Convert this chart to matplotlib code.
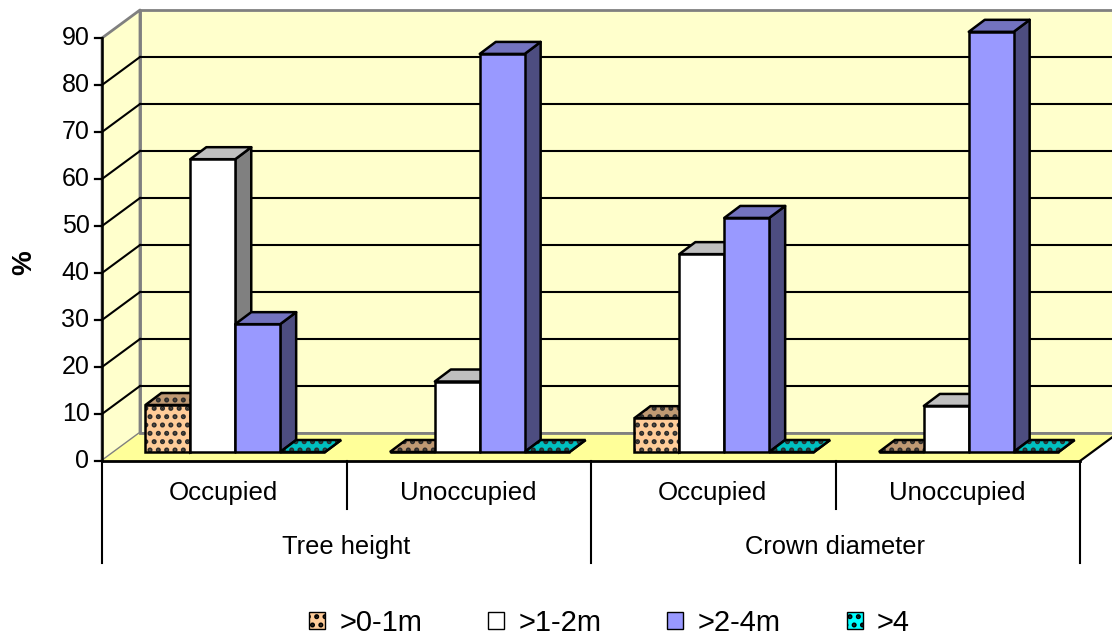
# Plotting
import matplotlib
matplotlib.use("Agg")
import matplotlib.pyplot as plt
from matplotlib.patches import Polygon, Patch
from matplotlib.transforms import Affine2D

plt.rcParams["font.family"] = ["Liberation Sans", "DejaVu Sans"]
plt.rcParams["hatch.linewidth"] = 2.4

# Values
groups = ["Tree height", "Crown diameter"]
subgroups = ["Occupied", "Unoccupied", "Occupied", "Unoccupied"]
series_names = [">0-1m", ">1-2m", ">2-4m", ">4"]
v_0_1 = [10.0, 0, 7.2, 0]
v_1_2 = [62.3, 15.0, 42.1, 9.8]
v_2_4 = [27.2, 84.7, 49.8, 89.4]
v_4 = [0, 0, 0, 0]
yticks = [0, 10, 20, 30, 40, 50, 60, 70, 80, 90]

# front, top, side colour and hatch per series
styles = [
    ("#FFCC99", "#BF9973", "#806650", ".."),
    ("#FFFFFF", "#BFBFBF", "#808080", None),
    ("#9999FF", "#7373BF", "#4D4D80", None),
    ("#00FFFF", "#00BFBF", "#008080", ".."),
]

bar_w = 0.1837

W, H = 1112, 636
fig = plt.figure(figsize=(W / 100, H / 100), dpi=100, facecolor="white")
ax = fig.add_axes([102 / W, 1 - 461 / H, 978 / W, 423 / H])
ax.set_xlim(0, 4)
ax.set_ylim(0, 90)
ax.axis("off")


# Data coordinates pushed back into the chart depth, in pixels
def depth(dx, dy):
    return ax.transData + Affine2D().translate(dx, dy)


wall_back = depth(38, 28)
bar_front = depth(11, 9)
bar_back = depth(27, 21)


def disp(tr, x, y):
    return tuple(tr.transform((x, y)))


def poly(points, color, hatch=None, edge="black", lw=1.8, z=2):
    # hatch is drawn first as it takes the edge colour
    if hatch:
        ax.add_patch(Polygon(points, closed=True, facecolor=color, edgecolor="#2b2b2b", hatch=hatch,
                             lw=0, transform=None, clip_on=False, zorder=z))
        ax.add_patch(Polygon(points, closed=True, fill=False, edgecolor=edge, lw=lw,
                             transform=None, clip_on=False, zorder=z))
    else:
        ax.add_patch(Polygon(points, closed=True, facecolor=color, edgecolor=edge, lw=lw,
                             transform=None, clip_on=False, zorder=z, joinstyle="round"))


# Walls and floor
poly([disp(wall_back, 0, 0), disp(wall_back, 4, 0), disp(wall_back, 4, 90), disp(wall_back, 0, 90)],
     "#FFFFCC", edge="#808080", lw=2, z=1)
poly([disp(ax.transData, 0, 0), disp(wall_back, 0, 0), disp(wall_back, 0, 90), disp(ax.transData, 0, 90)],
     "#FFFFCC", edge="#808080", lw=2, z=1)
poly([disp(ax.transData, 0, 0), disp(ax.transData, 4, 0), disp(wall_back, 4, 0), disp(wall_back, 0, 0)],
     "#FFFF99", edge="#FFFF99", lw=0, z=1)
ax.plot([0, 4], [0, 0], transform=wall_back, color="#808080", lw=2, clip_on=False, zorder=1.1)
ax.plot([disp(ax.transData, 4, 0)[0], disp(wall_back, 4, 0)[0]],
        [disp(ax.transData, 4, 0)[1], disp(wall_back, 4, 0)[1]],
        transform=None, color="black", lw=1.6, clip_on=False, zorder=1.2)

# Grid lines
for t in yticks[1:-1]:
    ax.plot([0, 4], [t, t], transform=wall_back, color="black", lw=1.5, clip_on=False, zorder=1.1)
    a, b = disp(ax.transData, 0, t), disp(wall_back, 0, t)
    ax.plot([a[0], b[0]], [a[1], b[1]], transform=None, color="black", lw=1.5, clip_on=False, zorder=1.1)

# Bars, left to right so each one covers the side of the one before
all_values = [v_0_1, v_1_2, v_2_4, v_4]
for g in range(4):
    left = g + 0.5 - 2 * bar_w
    for s, vals in enumerate(all_values):
        x0, x1, v = left + s * bar_w, left + (s + 1) * bar_w, vals[g]
        front, top, side, hatch = styles[s]
        z = 2 + g + s * 0.1
        poly([disp(bar_front, x1, 0), disp(bar_back, x1, 0), disp(bar_back, x1, v), disp(bar_front, x1, v)],
             side, hatch, z=z)
        poly([disp(bar_front, x0, v), disp(bar_front, x1, v), disp(bar_back, x1, v), disp(bar_back, x0, v)],
             top, hatch, z=z)
        poly([disp(bar_front, x0, 0), disp(bar_front, x1, 0), disp(bar_front, x1, v), disp(bar_front, x0, v)],
             front, hatch, z=z)

# Y axis, drawn by hand as the axes frame is off
ax.plot([0, 0], [0, 90], color="black", lw=1.8, clip_on=False, zorder=1.5)
for t in yticks:
    p = disp(ax.transData, 0, t)
    ax.plot([p[0] - 7, p[0]], [p[1], p[1]], transform=None, color="black", lw=1.6, clip_on=False, zorder=1.5)
    ax.annotate(str(t), (0, t), xytext=(-9, 0), textcoords="offset points", ha="right", va="center", fontsize=18)
ax.text(24 / W, 1 - 263 / H, "%", transform=fig.transFigure, rotation=90, ha="center", va="center",
        fontsize=20, fontweight="bold")

# Two level category axis
ax.plot([0, 4], [0, 0], color="black", lw=2, clip_on=False, zorder=1.5)
for x in [1, 3]:
    ax.plot([x, x], [0, -10.2], color="black", lw=1.5, clip_on=False)
for x in [0, 2, 4]:
    ax.plot([x, x], [0, -21.6], color="black", lw=1.5, clip_on=False)
for i, name in enumerate(subgroups):
    ax.text(i + 0.5 - 0.002, -6.9, name, ha="center", va="center", fontsize=18.6)
for i, name in enumerate(groups):
    ax.text(i * 2 + 1 - 0.002, -18.4, name, ha="center", va="center", fontsize=18.4)

# Legend
handles = []
for name, (front, top, side, hatch) in zip(series_names, styles):
    handles.append(Patch(facecolor=front, edgecolor="black", hatch=hatch, label=name))
fig.legend(handles=handles, ncols=4, loc="center", bbox_to_anchor=(609.5 / W, 1 - 623 / H), frameon=False,
           fontsize=21, handlelength=0.55, handleheight=0.55, handletextpad=0.5, columnspacing=2.25,
           borderpad=0, borderaxespad=0)

fig.savefig("out.png", dpi=100)
